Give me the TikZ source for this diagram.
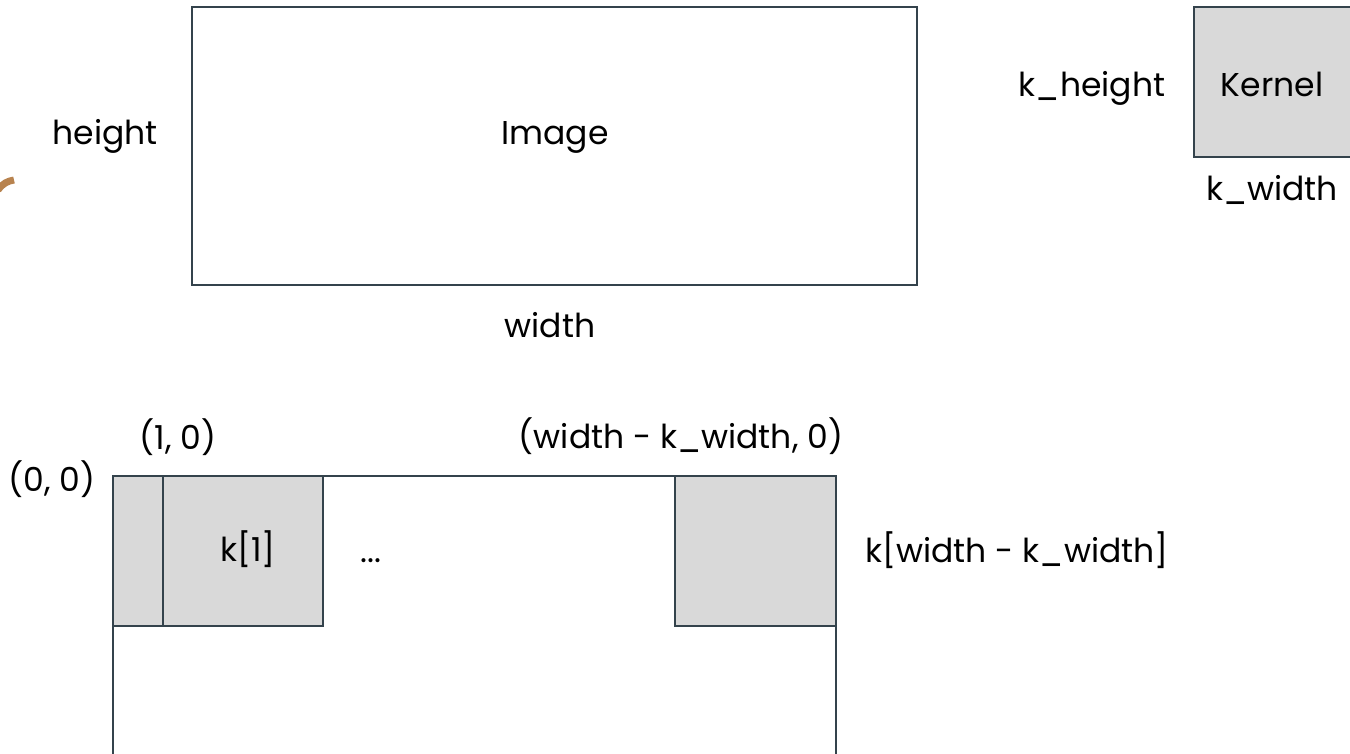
\documentclass[tikz,border=0pt]{standalone}
\usepackage{fontspec}
\setmainfont{Poppins}
\begin{document}
\begin{tikzpicture}[x=1pt,y=-1pt,
  edge/.style={draw=linec, line width=2pt},
  kbox/.style={edge, fill=kfill},
  lbl/.style={inner sep=0pt, anchor=base, font=\fontsize{33}{38}\selectfont, text=black}]
\definecolor{linec}{HTML}{34434C}
\definecolor{kfill}{HTML}{D9D9D9}
\definecolor{accent}{HTML}{B8834F}
\useasboundingbox (0,0) rectangle (1350,753);

% top row: image and kernel
\draw[edge] (192,7) rectangle (917,285);
\node[lbl] (imgl) at (555,144) {Image};
\node[lbl] (hl) at (105,144) {height};
\node[lbl] (wl) at (550,337) {width};

\draw[kbox] (1194,7) rectangle (1360,157);
\node[lbl] (kl) at (1272,96) {Kernel};
\node[lbl] (khl) at (1092,96) {k\_height};
\node[lbl] (kwl) at (1272,200) {k\_width};

% partial curve at the left edge
\draw[accent, line width=7pt] (-2,190) .. controls (3,183) and (8,181) .. (14,180);

% bottom row: sliding windows
\draw[edge] (113,770) -- (113,476) -- (836,476) -- (836,770);
\draw[kbox] (113,476) rectangle (273,626);
\draw[kbox] (163,476) rectangle (323,626);
\draw[kbox] (675,476) rectangle (836,626);

\node[lbl] (p10) at (178,449) {(1, 0)};
\node[lbl] (pw0) at (681,448) {(width - k\_width, 0)};
\node[lbl] (p00) at (52,491) {(0, 0)};
\node[lbl] (k1) at (248,561) {k[1]};
\node[lbl] (dots) at (371,562) {...};
\node[lbl] (kw) at (1017,562) {k[width - k\_width]};
\end{tikzpicture}
\end{document}
